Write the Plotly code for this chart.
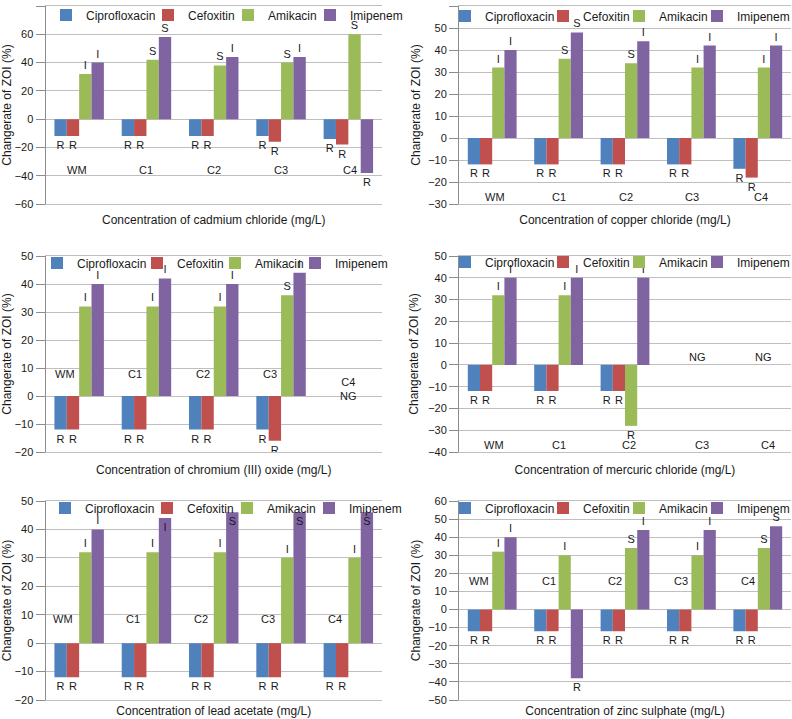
import plotly.graph_objects as go

categories = ["WM", "C1", "C2", "C3", "C4"]
antibiotics = ["Ciprofloxacin", "Cefoxitin", "Amikacin", "Imipenem"]
colors = ["#4F81BD", "#C0504D", "#9BBB59", "#8064A2"]

# Panel 1: cadmium chloride
cd_cipro = [-12, -12, -12, -12, -14]
cd_cefox = [-12, -12, -12, -16, -18]
cd_amik = [32, 42, 38, 40, 60]
cd_imip = [40, 58, 44, 44, -38]
cd_amik_lbl = ["I", "S", "S", "S", "S"]
cd_imip_lbl = ["I", "S", "I", "I", "R"]

# Panel 2: copper chloride
cu_cipro = [-12, -12, -12, -12, -14]
cu_cefox = [-12, -12, -12, -12, -18]
cu_amik = [32, 36, 34, 32, 32]
cu_imip = [40, 48, 44, 42, 42]
cu_amik_lbl = ["I", "S", "S", "I", "I"]
cu_imip_lbl = ["I", "S", "I", "I", "I"]

# Panel 3: chromium (III) oxide
cr_cipro = [-12, -12, -12, -12, None]
cr_cefox = [-12, -12, -12, -16, None]
cr_amik = [32, 32, 32, 36, None]
cr_imip = [40, 42, 40, 44, None]
cr_amik_lbl = ["I", "I", "I", "S", ""]
cr_imip_lbl = ["I", "I", "I", "I", ""]

# Panel 4: mercuric chloride
hg_cipro = [-12, -12, -12, None, None]
hg_cefox = [-12, -12, -12, None, None]
hg_amik = [32, 32, -28, None, None]
hg_imip = [40, 40, 40, None, None]
hg_amik_lbl = ["I", "I", "R", "", ""]
hg_imip_lbl = ["I", "I", "I", "", ""]

# Panel 5: lead acetate
pb_cipro = [-12, -12, -12, -12, -12]
pb_cefox = [-12, -12, -12, -12, -12]
pb_amik = [32, 32, 32, 30, 30]
pb_imip = [40, 44, 46, 46, 46]
pb_amik_lbl = ["I", "I", "I", "I", "I"]
pb_imip_lbl = ["I", "I", "S", "S", "S"]

# Panel 6: zinc sulphate
zn_cipro = [-12, -12, -12, -12, -12]
zn_cefox = [-12, -12, -12, -12, -12]
zn_amik = [32, 30, 34, 30, 34]
zn_imip = [40, -38, 44, 44, 46]
zn_amik_lbl = ["I", "I", "S", "I", "S"]
zn_imip_lbl = ["I", "R", "I", "I", "S"]

x_titles = [
    "Concentration of cadmium chloride (mg/L)",
    "Concentration of copper chloride (mg/L)",
    "Concentration of chromium (III) oxide (mg/L)",
    "Concentration of mercuric chloride (mg/L)",
    "Concentration of lead acetate (mg/L)",
    "Concentration of zinc sulphate (mg/L)",
]
y_title = "Changerate of ZOI (%)"
y_ranges = [(-60, 80), (-30, 60), (-20, 50), (-40, 50), (-20, 50), (-50, 60)]
y_dticks = [20, 10, 10, 10, 10, 10]
ng_text = "NG"

panels = [
    (cd_cipro, cd_cefox, cd_amik, cd_imip, cd_amik_lbl, cd_imip_lbl),
    (cu_cipro, cu_cefox, cu_amik, cu_imip, cu_amik_lbl, cu_imip_lbl),
    (cr_cipro, cr_cefox, cr_amik, cr_imip, cr_amik_lbl, cr_imip_lbl),
    (hg_cipro, hg_cefox, hg_amik, hg_imip, hg_amik_lbl, hg_imip_lbl),
    (pb_cipro, pb_cefox, pb_amik, pb_imip, pb_amik_lbl, pb_imip_lbl),
    (zn_cipro, zn_cefox, zn_amik, zn_imip, zn_amik_lbl, zn_imip_lbl),
]

# ---- layout geometry (pixels) ----
W, H = 792, 719
x_doms_px = [(45.5, 382), (459, 791)]
y_doms_px = [(6, 204), (256, 452), (501, 700)]
# legend symbol left edges (px) per panel, and legend row centre (px)
legend_sym_px = [
    [60, 162, 242, 324],
    [459, 557, 633, 711],
    [51, 151, 229, 309],
    [459, 557, 633, 711],
    [59, 161, 241, 323],
    [459, 557, 633, 711],
]
legend_row_px = [15, 16, 263, 262, 508, 508]
title_standoff = [11, 11, 13, 13, 6, 6]
ytitle_standoff = [8, 4, 6, 6, 6, 4]

GRID = "#BFBFBF"
AXIS = "#8C8C8C"
TXT = "#1a1a1a"
FONT = "Liberation Sans, Arial, sans-serif"

fig = go.Figure()
layout = dict(
    width=W, height=H,
    margin=dict(l=0, r=0, t=0, b=0, autoexpand=False),
    paper_bgcolor="white", plot_bgcolor="white",
    font=dict(family=FONT, size=12, color=TXT),
    barmode="group", bargap=0.265, bargroupgap=0,
)

annotations = []
for i, data in enumerate(panels):
    cipro, cefox, amik, imip, amik_lbl, imip_lbl = data
    n = i + 1
    sfx = "" if n == 1 else str(n)
    xa, ya = "x" + sfx, "y" + sfx
    col, row = i % 2, i // 2
    xd = [x_doms_px[col][0] / W, x_doms_px[col][1] / W]
    yd = [1 - y_doms_px[row][1] / H, 1 - y_doms_px[row][0] / H]

    series = [cipro, cefox, amik, imip]
    lbls = [["R" if v is not None else "" for v in cipro],
            ["R" if v is not None else "" for v in cefox],
            amik_lbl, imip_lbl]
    for k in range(4):
        L = i * 4 + k + 1
        leg = "legend" if L == 1 else "legend" + str(L)
        tp = "outside"
        if n == 5 and k == 3:
            tp = ["outside", "inside", "inside", "inside", "inside"]
        fig.add_trace(go.Bar(
            x=categories, y=series[k], name=antibiotics[k],
            marker=dict(color=colors[k], line=dict(width=0)),
            text=lbls[k], textposition=tp, insidetextanchor="end",
            textangle=0, constraintext="none",
            textfont=dict(size=11, color=TXT),
            insidetextfont=dict(size=11, color=TXT),
            outsidetextfont=dict(size=11, color=TXT),
            xaxis=xa, yaxis=ya, legend=leg, showlegend=True,
            hoverinfo="x+y+name",
        ))
        layout[leg] = dict(
            orientation="h", x=(legend_sym_px[i][k] - 14) / W,
            y=1 - legend_row_px[i] / H, xanchor="left", yanchor="middle",
            xref="paper", yref="paper", bgcolor="rgba(0,0,0,0)",
            font=dict(size=12, color=TXT),
            itemclick=False, itemdoubleclick=False,
        )

    layout["xaxis" + sfx] = dict(
        domain=xd, anchor=ya, type="category", range=[-0.5, 4.5],
        showticklabels=False, ticks="", showgrid=False, zeroline=False,
        showline=True, mirror=True, linecolor=GRID, linewidth=1,
        title=dict(text=x_titles[i], font=dict(size=12, color=TXT),
                   standoff=title_standoff[i]),
    )
    layout["yaxis" + sfx] = dict(
        domain=yd, anchor=xa, range=list(y_ranges[i]), dtick=y_dticks[i],
        showgrid=True, gridcolor=GRID, gridwidth=1,
        zeroline=True, zerolinecolor=GRID, zerolinewidth=1,
        showline=True, linecolor=AXIS, linewidth=1,
        ticks="outside", ticklen=9, tickcolor=AXIS,
        tickfont=dict(size=11, color=TXT),
        title=dict(text=y_title, font=dict(size=12, color=TXT),
                   standoff=ytitle_standoff[i]),
    )

# category labels inside the plots
def cat_labels(n, y, xanchor="center", xshift=(0, 0, 0, 0, 0), skip=()):
    sfx = "" if n == 1 else str(n)
    for j, c in enumerate(categories):
        if j in skip:
            continue
        annotations.append(dict(
            x=c, y=y, xref="x" + sfx, yref="y" + sfx, text=c, showarrow=False,
            xanchor=xanchor, yanchor="middle", xshift=xshift[j],
            font=dict(size=11, color=TXT)))

cat_labels(1, -36, xshift=(-2, 0, 0, 0, 2))
cat_labels(2, -27, xshift=(3, 0, 1, 1, 3))
cat_labels(3, 7.9, xanchor="right", xshift=(-2,) * 5, skip=(4,))
annotations.append(dict(x=categories[4], y=2.5, xref="x3", yref="y3",
                        text=categories[4] + "<br>" + ng_text, showarrow=False,
                        font=dict(size=11, color=TXT)))
cat_labels(4, -36.8, xshift=(2, 0, 4, 11, 10))
for c in categories[3:]:
    annotations.append(dict(x=c, y=3.4, xref="x4", yref="y4", text=ng_text,
                            showarrow=False, xshift=6, font=dict(size=11, color=TXT)))
cat_labels(5, 8.4, xanchor="right", xshift=(-4,) * 5)
cat_labels(6, 16, xanchor="right", xshift=(-1,) * 5)

layout["annotations"] = annotations
fig.update_layout(**layout)
fig.write_html("out.html", config={"displayModeBar": False},
               post_script="document.body.style.margin='0px';")
